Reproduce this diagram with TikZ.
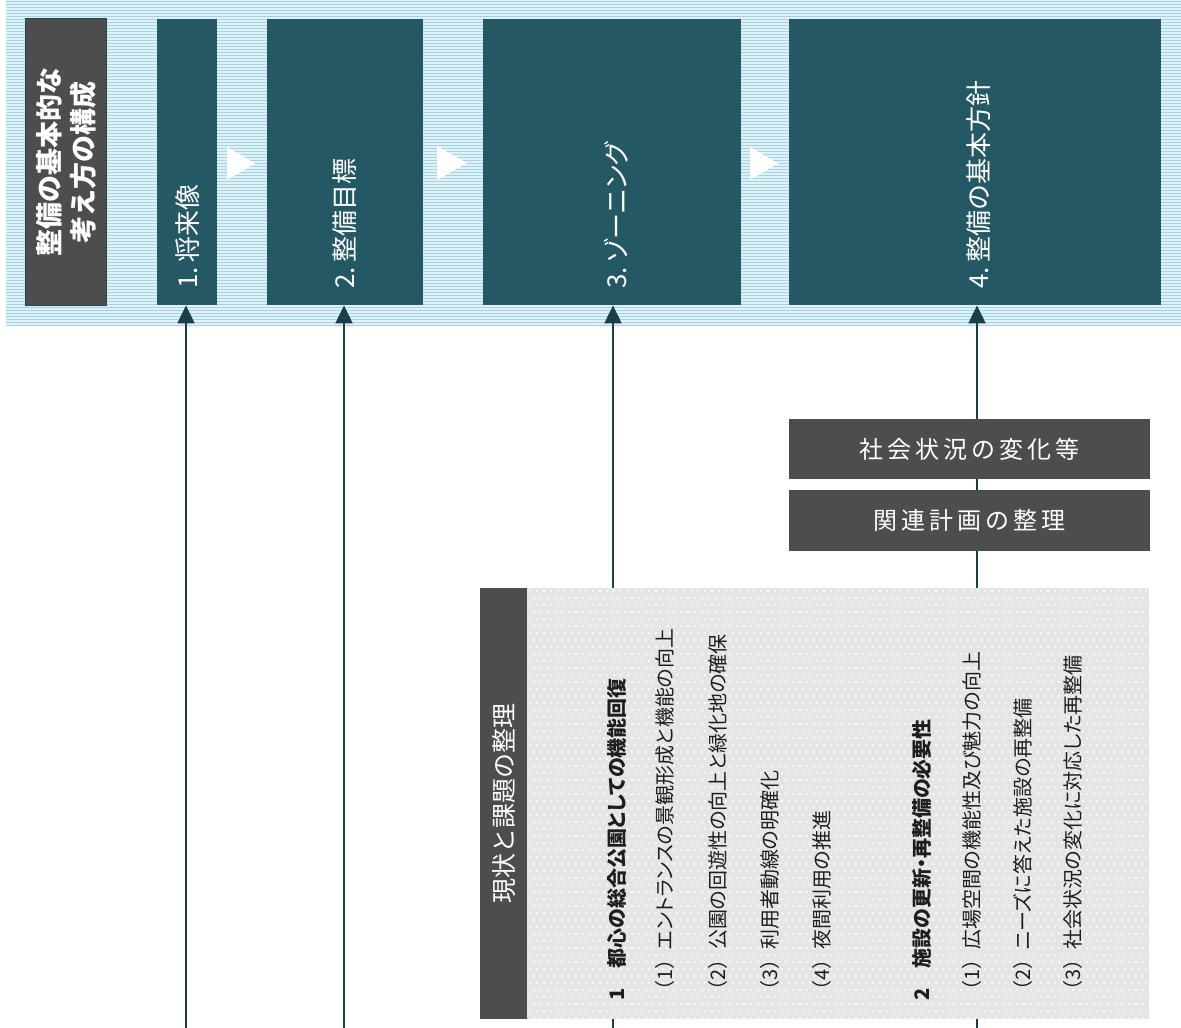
\documentclass[tikz,border=0pt]{standalone}
\usepackage{fontspec}
\setmainfont{Noto Sans CJK JP}
\newfontfamily\jpp[RawFeature=+palt]{Noto Sans CJK JP}
\newfontfamily\jpn{Noto Sans CJK JP}
\usetikzlibrary{arrows.meta}
\definecolor{teal1}{RGB}{37,88,101}
\definecolor{gray1}{RGB}{77,77,77}
\definecolor{arrowc}{RGB}{27,63,74}
\definecolor{stripeA}{RGB}{224,241,247}
\definecolor{stripeB}{RGB}{164,210,225}
\definecolor{panelbg}{RGB}{229,229,229}
\definecolor{dotc}{RGB}{248,248,248}
\definecolor{textc}{RGB}{30,30,30}
\newcommand\lsp{\hspace{4pt}}
\newcommand\pn[1]{{\jpn （#1）}}
\begin{document}
\begin{tikzpicture}[x=1pt,y=-1pt,
  boxr/.style={rectangle,inner sep=0pt,anchor=north west},
  tealbox/.style={boxr,fill=teal1},
  graybox/.style={boxr,fill=gray1},
  vlabel/.style={rotate=90,anchor=west,inner sep=0pt,text=white,font=\fontsize{26}{30}\selectfont},
  item/.style={rotate=90,anchor=west,inner sep=0pt,text=textc,font=\jpp\fontsize{20}{24}\selectfont},
  head/.style={item,font=\jpp\bfseries\fontsize{20}{24}\selectfont},
  arr/.style={draw=arrowc,line width=2pt,-{Triangle[length=18pt,width=17pt]}},
  tri/.style={fill=white,draw=none}]
\useasboundingbox (0,0) rectangle (1181,1028);
% striped band
\fill[stripeA] (6,0) rectangle (1181,325);
\begin{scope}
\clip (6,0) rectangle (1181,325);
\foreach \i in {0,...,108} {
  \draw[stripeB,line width=1.5pt] (6,1.5+3*\i) -- (1181,1.5+3*\i);
}
\end{scope}
% top boxes
\node[graybox,draw=teal1!80!black,line width=1pt,minimum width=81pt,minimum height=287pt] (title) at (25,18) {};
\node[rotate=90,inner sep=0pt,text=white,align=center,font=\bfseries\fontsize{27}{34}\selectfont] (titletext) at (title.center) {整備の基本的な\\考え方の構成};
\node[tealbox,minimum width=60pt,minimum height=286pt] (b1) at (157,19) {};
\node[tealbox,minimum width=156pt,minimum height=286pt] (b2) at (267,19) {};
\node[tealbox,minimum width=258pt,minimum height=286pt] (b3) at (483,19) {};
\node[tealbox,minimum width=372pt,minimum height=286pt] (b4) at (789,19) {};
\node[vlabel] (t1) at (188,289) {1.\,将来像};
\node[vlabel] (t2) at (345,289) {2.\,整備目標};
\node[vlabel] (t3) at (616,289) {3.\,{\jpp ゾーニング}};
\node[vlabel] (t4) at (979,289) {4.\,整備の基本方針};
% flow triangles
\fill[tri] (227,147) -- (227,180) -- (255,163.5) -- cycle;
\fill[tri] (437,146) -- (437,180) -- (467,163) -- cycle;
\fill[tri] (750,147) -- (750,180) -- (778,163.5) -- cycle;
% arrows
\coordinate (c1) at (186,1028);
\coordinate (c2) at (344,1028);
\coordinate (c3) at (613,1028);
\coordinate (c4) at (977,1028);
\draw[arr] (c1) -- (c1 |- b1.south);
\draw[arr] (c2) -- (c2 |- b2.south);
\draw[arr] (c3) -- (c3 |- b3.south);
\draw[arr] (c4) -- (c4 |- b4.south);
% middle boxes
\node[graybox,minimum width=361pt,minimum height=60pt] (soc) at (789,419) {};
\node[text=white,inner sep=0pt,font=\fontsize{24}{28}\selectfont] (soct) at (soc.center) {社\lsp 会\lsp 状\lsp 況\lsp の\lsp 変\lsp 化\lsp 等};
\node[graybox,minimum width=361pt,minimum height=61pt] (rel) at (789,490) {};
\node[text=white,inner sep=0pt,font=\fontsize{24}{28}\selectfont] (relt) at (rel.center) {関\lsp 連\lsp 計\lsp 画\lsp の\lsp 整\lsp 理};
% panel
\node[graybox,minimum width=47pt,minimum height=431pt] (strip) at (480,588) {};
\node[rotate=90,inner sep=0pt,text=white,font=\fontsize{25}{30}\selectfont] (stript) at (strip.center) {現状と課題の整理};
\node[boxr,fill=panelbg,minimum width=622pt,minimum height=431pt] (panel) at (527,588) {};
\begin{scope}
\clip (panel.north west) rectangle (panel.south east);
\foreach \r in {0,...,62} {
  \pgfmathsetmacro\ph{mod(\r,2)*3.5}
  \draw[dotc,line width=2pt,dash pattern=on 2pt off 5pt,dash phase=\ph pt] (529,591+7*\r) -- (1149,591+7*\r);
}
\end{scope}
\node[head] (h1) at (617,1001) {1　都心の総合公園としての機能回復};
\node[item] (i11) at (665,1001) {\pn{1}エントランスの景観形成と機能の向上};
\node[item] (i12) at (718,1001) {\pn{2}公園の回遊性の向上と緑化地の確保};
\node[item] (i13) at (770,1001) {\pn{3}利用者動線の明確化};
\node[item] (i14) at (822,1001) {\pn{4}夜間利用の推進};
\node[head] (h2) at (922,1001) {2　施設の更新・再整備の必要性};
\node[item] (i21) at (972,1001) {\pn{1}広場空間の機能性及び魅力の向上};
\node[item] (i22) at (1023,1001) {\pn{2}ニーズに答えた施設の再整備};
\node[item] (i23) at (1073,1001) {\pn{3}社会状況の変化に対応した再整備};
\end{tikzpicture}
\end{document}
